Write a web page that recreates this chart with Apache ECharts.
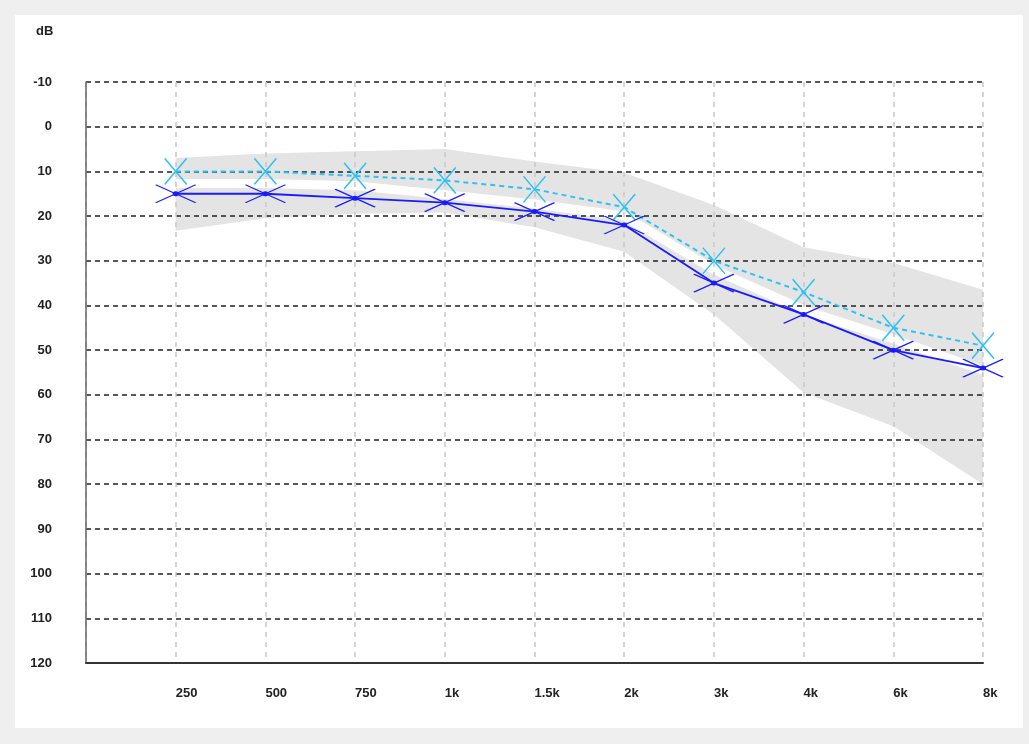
<!DOCTYPE html>
<html>
<head>
<meta charset="utf-8">
<script src="https://cdn.jsdelivr.net/npm/echarts@6/dist/echarts.min.js"></script>
<style>
  html, body { margin: 0; padding: 0; background: #efefef; }
  #chart { position: absolute; left: 15px; top: 15px; width: 1008px; height: 713px; background: #fff; }
</style>
</head>
<body>
<div id="chart"></div>
<script>
// frequencies (first slot is the empty start of the axis)
const freqs = ["", "250", "500", "750", "1k", "1.5k", "2k", "3k", "4k", "6k", "8k"];
const yTicks = [-10, 0, 10, 20, 30, 40, 50, 60, 70, 80, 90, 100, 110, 120];

// dB values per frequency
const lightEar = [10, 10, 11, 12, 14, 18, 30, 37, 45, 49];
const darkEar = [15, 15, 16, 17, 19, 22, 35, 42, 50, 54];
// grey normal range
const bandTop = [7, 6, 5.5, 5, 7.8, 10.3, 17.5, 27, 30.5, 36.5];
const bandBottom = [23.3, 20.5, 19.5, 19.2, 22.5, 28, 42, 59.5, 67, 80];
// white gap running through the range
const gapLine = [12.7, 12.7, 13.2, 15.2, 17.3, 20, 32, 41, 47.5, 54.5];

const pad = (arr) => ["-"].concat(arr);
const textColor = "#222";
const font = "Liberation Sans, Arial, sans-serif";

const chart = echarts.init(document.getElementById("chart"));
chart.setOption({
  animation: false,
  graphic: [{
    type: "text",
    left: 21,
    top: 10,
    style: { text: "dB", fill: textColor, font: "bold 13px " + font },
  }],
  grid: { left: 71, top: 67, right: 40, bottom: 65 },
  xAxis: {
    type: "category",
    z: 3,
    data: freqs,
    boundaryGap: false,
    axisLine: { onZero: false, lineStyle: { color: "#333", width: 2 } },
    axisTick: { show: false },
    axisLabel: {
      interval: 0,
      align: "left",
      margin: 24,
      color: textColor,
      fontWeight: "bold",
      fontSize: 13,
      fontFamily: font,
    },
    splitLine: {
      show: true,
      interval: 0,
      lineStyle: { color: "#c8c8c8", width: 1.5, type: [5, 5] },
    },
  },
  yAxis: {
    type: "value",
    z: 3,
    inverse: true,
    min: yTicks[0],
    max: yTicks[yTicks.length - 1],
    interval: 10,
    axisLine: { show: true, lineStyle: { color: "#666", width: 1.5 } },
    axisTick: { show: false },
    axisLabel: {
      margin: 34,
      color: textColor,
      fontWeight: "bold",
      fontSize: 13,
      fontFamily: font,
    },
    splitLine: { lineStyle: { color: "#222", width: 1.5, type: [5, 4] } },
  },
  series: [
    {
      type: "line",
      stack: "band",
      data: pad(bandTop),
      symbol: "none",
      lineStyle: { opacity: 0 },
      silent: true,
      z: 1,
    },
    {
      type: "line",
      stack: "band",
      data: pad(bandBottom.map((v, i) => +(v - bandTop[i]).toFixed(2))),
      symbol: "none",
      lineStyle: { opacity: 0 },
      areaStyle: { color: "#e4e4e4", opacity: 1 },
      silent: true,
      z: 1,
    },
    {
      type: "line",
      data: pad(gapLine),
      symbol: "none",
      lineStyle: { color: "#fff", width: 9 },
      silent: true,
      z: 1,
    },
    {
      type: "line",
      data: pad(lightEar),
      symbol: "path://M0,0L22,26M0,26L22,0",
      symbolSize: [22, 26],
      itemStyle: { color: "transparent", borderColor: "#2ec2f2", borderWidth: 1.5 },
      lineStyle: { color: "#2ec2f2", width: 2, type: [5, 4] },
      z: 5,
    },
    {
      type: "line",
      data: pad(darkEar),
      symbol: "path://M0,0L40,18M0,18L40,0M18,9a2,2 0 1,0 4,0a2,2 0 1,0 -4,0Z",
      symbolSize: [40, 18],
      itemStyle: { color: "#1a1aff", borderColor: "#1a1aff", borderWidth: 1.5 },
      lineStyle: { color: "#1a1aff", width: 1.8 },
      z: 6,
    },
  ],
});
</script>
</body>
</html>
